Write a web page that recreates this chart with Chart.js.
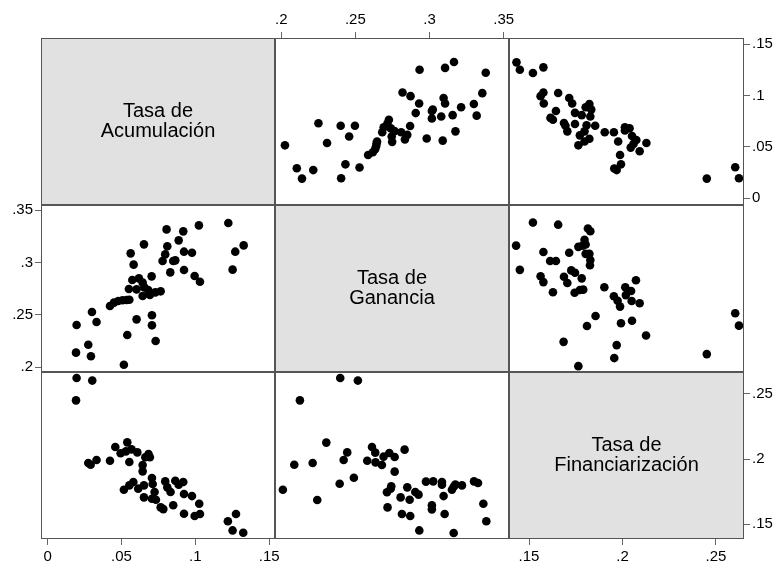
<!DOCTYPE html>
<html>
<head>
<meta charset="utf-8">
<script src="https://cdn.jsdelivr.net/npm/chart.js@4.4.1/dist/chart.umd.min.js"></script>
<style>
  html, body { margin: 0; padding: 0; background: #fff; }
  #wrap { position: relative; width: 776px; height: 567px; }
  #wrap canvas { position: absolute; left: 0; top: 0; }
</style>
</head>
<body>
<div id="wrap"></div>
<script>
/* ---------- datos ---------- */
const VARS = ['acum', 'gan', 'fin'];
const TITLES = {
  acum: ['Tasa de', 'Acumulación'],
  gan: ['Tasa de', 'Ganancia'],
  fin: ['Tasa de', 'Financiarización'],
};
const ACUM_TICKS = [0, 0.05, 0.1, 0.15];
const GAN_TICKS = [0.2, 0.25, 0.3, 0.35];
const FIN_TICKS = [0.15, 0.2, 0.25];

// acumulación vs ganancia
const AG_ACUM = [0.0196, 0.0192, 0.0275, 0.0293, 0.0300, 0.0331, 0.0516, 0.0539, 0.0602, 0.0706, 0.0706, 0.0731, 0.0422,
  0.0449, 0.0478, 0.0507, 0.0535, 0.0553, 0.0550, 0.0573, 0.0618, 0.0602, 0.0643, 0.0654, 0.0643, 0.0681, 0.0692,
  0.0729, 0.0765, 0.0704, 0.0582, 0.0562, 0.0652, 0.0805, 0.0810, 0.0796, 0.0778, 0.0850, 0.0864, 0.0830, 0.0887,
  0.0918, 0.0923, 0.0977, 0.0923, 0.0995, 0.1031, 0.1024, 0.1223, 0.1270, 0.1327, 0.1252];
const AG_GAN = [0.2404, 0.2140, 0.2216, 0.2105, 0.2528, 0.2433, 0.2025, 0.2309, 0.2458, 0.2497, 0.2401, 0.2251, 0.2586,
  0.2618, 0.2633, 0.2640, 0.2643, 0.2646, 0.2748, 0.2834, 0.2850, 0.2745, 0.2809, 0.2764, 0.2681, 0.2739, 0.2691,
  0.2716, 0.2726, 0.2869, 0.2981, 0.3089, 0.3175, 0.3318, 0.3156, 0.3079, 0.3016, 0.3016, 0.3022, 0.2907, 0.3213,
  0.3299, 0.3105, 0.3095, 0.2930, 0.2872, 0.2818, 0.3356, 0.3379, 0.3105, 0.3165, 0.2933];

// acumulación vs financiarización
const AF_ACUM = [0.0196, 0.0302, 0.0192, 0.0275, 0.0291, 0.0331, 0.0422, 0.0458, 0.0494, 0.0539, 0.0553, 0.0568, 0.0607,
  0.0530, 0.0661, 0.0683, 0.0692, 0.0643, 0.0643, 0.0516, 0.0553, 0.0580, 0.0613, 0.0652, 0.0706, 0.0711, 0.0652,
  0.0706, 0.0724, 0.0733, 0.0765, 0.0783, 0.0796, 0.0810, 0.0832, 0.0850, 0.0864, 0.0887, 0.0918, 0.0923, 0.0923,
  0.0977, 0.0995, 0.1026, 0.1031, 0.1220, 0.1252, 0.1275, 0.1324];
const AF_FIN = [0.2623, 0.2603, 0.2451, 0.1969, 0.1956, 0.1992, 0.1987, 0.2092, 0.2044, 0.2128, 0.1977, 0.2074, 0.2051,
  0.2059, 0.2013, 0.2038, 0.2013, 0.1954, 0.1905, 0.1764, 0.1797, 0.1823, 0.1772, 0.1797, 0.1854, 0.1808, 0.1705,
  0.1695, 0.1746, 0.1687, 0.1628, 0.1615, 0.1828, 0.1782, 0.1746, 0.1644, 0.1833, 0.1803, 0.1823, 0.1731, 0.1579,
  0.1715, 0.1562, 0.1656, 0.1577, 0.1521, 0.1451, 0.1577, 0.1433];

// ganancia vs financiarización
const GF_GAN = [0.2398, 0.2517, 0.2126, 0.2304, 0.2445, 0.2421, 0.2212, 0.2088, 0.2011, 0.2243, 0.2394, 0.2490, 0.2612,
  0.2634, 0.2580, 0.2636, 0.2679, 0.2690, 0.2729, 0.2765, 0.2832, 0.2765, 0.2742, 0.2738, 0.2713, 0.2717, 0.2805,
  0.2814, 0.2850, 0.2866, 0.2870, 0.2904, 0.2926, 0.2931, 0.2976, 0.3025, 0.3084, 0.3084, 0.3095, 0.3016, 0.3016,
  0.3102, 0.3163, 0.3151, 0.3174, 0.3219, 0.3300, 0.3327, 0.3363, 0.3383, 0.3163];
const GF_FIN = [0.2623, 0.2603, 0.2451, 0.2126, 0.2051, 0.1992, 0.1969, 0.1956, 0.1764, 0.1685, 0.1810, 0.1856, 0.2092,
  0.2049, 0.1987, 0.1974, 0.1954, 0.2018, 0.2046, 0.2015, 0.2072, 0.1903, 0.1790, 0.1772, 0.1744, 0.1628, 0.1705,
  0.1577, 0.1782, 0.1687, 0.1562, 0.1746, 0.1726, 0.1451, 0.1826, 0.1828, 0.1823, 0.1803, 0.1715, 0.1644, 0.1613,
  0.1577, 0.1787, 0.1764, 0.1803, 0.1797, 0.1828, 0.1815, 0.1656, 0.1521, 0.1431];

const PAIRS = {
  'acum|gan': [AG_ACUM, AG_GAN],
  'acum|fin': [AF_ACUM, AF_FIN],
  'gan|fin': [GF_GAN, GF_FIN],
};
const TICKS = { acum: ACUM_TICKS, gan: GAN_TICKS, fin: FIN_TICKS };

/* ---------- layout ---------- */
const W = 776, H = 567;
const COL_X = [41, 275, 509, 744];
const ROW_Y = [38, 205, 372, 539];
const AXIS_W = 30, AXIS_H = 26;
// rango de cada variable según sea eje x o eje y
const RANGE_X = { acum: [-0.0045, 0.1539], gan: [0.1958, 0.3536], fin: [0.1393, 0.2650] };
const RANGE_Y = { acum: [-0.0065, 0.1561], gan: [0.1955, 0.3551], fin: [0.1385, 0.2669] };
// qué celdas llevan ejes (fila,col)
const AXES = { '0,1': ['top'], '0,2': ['right'], '1,0': ['left'], '2,0': ['bottom'], '2,2': ['bottom', 'right'] };

const FONT = '"Liberation Sans", Arial, Helvetica, sans-serif';
const fmt = (v) => (v === 0 ? '0' : String(v).replace(/^0\./, '.'));

function points(xv, yv) {
  let p = PAIRS[xv + '|' + yv];
  let swap = false;
  if (!p) { p = PAIRS[yv + '|' + xv]; swap = true; }
  const [a, b] = p;
  return a.map((v, i) => (swap ? { x: b[i], y: v } : { x: v, y: b[i] }));
}

function axis(pos, range, ticks, show) {
  const vertical = pos === 'left' || pos === 'right';
  return {
    type: 'linear',
    position: pos,
    min: range[0],
    max: range[1],
    display: show,
    afterBuildTicks: (s) => { s.ticks = ticks.map((v) => ({ value: v })); },
    afterFit: (s) => {
      if (!show) return;
      if (vertical) s.width = AXIS_W; else s.height = AXIS_H;
    },
    grid: { drawOnChartArea: false, drawTicks: true, tickLength: 6, color: '#666', lineWidth: 1 },
    border: { display: false },
    ticks: {
      padding: vertical ? 2 : 3,
      color: '#000',
      font: { family: FONT, size: 15 },
      autoSkip: false,
      maxRotation: 0,
      callback: fmt,
    },
  };
}

const cellPlugin = {
  id: 'cell',
  beforeDraw(chart, args, opts) {
    const a = chart.chartArea;
    if (opts.diag) {
      const ctx = chart.ctx;
      ctx.save();
      ctx.fillStyle = '#e1e1e1';
      ctx.fillRect(a.left, a.top, a.right - a.left, a.bottom - a.top);
      ctx.restore();
    }
  },
  afterDraw(chart, args, opts) {
    const a = chart.chartArea;
    const ctx = chart.ctx;
    ctx.save();
    if (opts.diag) {
      ctx.fillStyle = '#000';
      ctx.font = '20px ' + FONT;
      ctx.textAlign = 'center';
      ctx.textBaseline = 'middle';
      const cx = (a.left + a.right) / 2, cy = (a.top + a.bottom) / 2;
      opts.title.forEach((t, i) => ctx.fillText(t, cx, cy + (i - 0.5) * 20));
    }
    ctx.strokeStyle = '#555';
    ctx.lineWidth = 1;
    ctx.strokeRect(a.left + 0.5, a.top + 0.5, a.right - a.left - 1, a.bottom - a.top - 1);
    ctx.restore();
  },
};

const wrap = document.getElementById('wrap');
for (let r = 0; r < 3; r++) {
  for (let c = 0; c < 3; c++) {
    const xv = VARS[c], yv = VARS[r];
    const diag = r === c;
    const sides = AXES[r + ',' + c] || [];
    const has = (s) => sides.includes(s);
    const canvas = document.createElement('canvas');
    canvas.width = W; canvas.height = H;
    wrap.appendChild(canvas);
    const xPos = has('top') ? 'top' : 'bottom';
    const yPos = has('right') ? 'right' : 'left';
    new Chart(canvas, {
      type: 'scatter',
      data: {
        datasets: [{
          data: diag ? [] : points(xv, yv),
          pointRadius: 4.3,
          pointBackgroundColor: '#000',
          pointBorderWidth: 0,
          clip: false,
        }],
      },
      options: {
        responsive: false,
        devicePixelRatio: 1,
        animation: false,
        events: [],
        layout: {
          padding: {
            left: COL_X[c] - (has('left') ? AXIS_W : 0),
            right: W - COL_X[c + 1] - (has('right') ? AXIS_W : 0),
            top: ROW_Y[r] - (has('top') ? AXIS_H : 0),
            bottom: H - ROW_Y[r + 1] - (has('bottom') ? AXIS_H : 0),
          },
        },
        scales: {
          x: axis(xPos, RANGE_X[xv], TICKS[xv], has('top') || has('bottom')),
          y: axis(yPos, RANGE_Y[yv], TICKS[yv], has('left') || has('right')),
        },
        plugins: {
          legend: { display: false },
          tooltip: { enabled: false },
          cell: { diag, title: TITLES[xv] },
        },
      },
      plugins: [cellPlugin],
    });
  }
}
</script>
</body>
</html>
